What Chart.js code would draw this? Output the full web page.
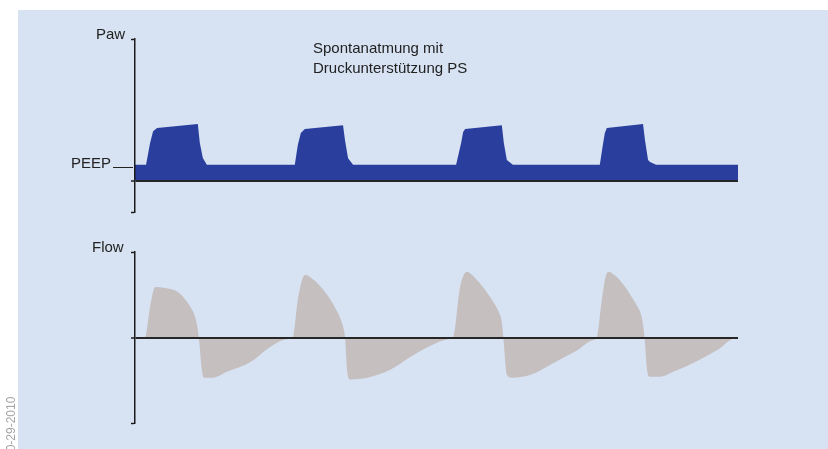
<!DOCTYPE html>
<html>
<head>
<meta charset="utf-8">
<script src="https://cdn.jsdelivr.net/npm/chart.js@4.4.1/dist/chart.umd.min.js"></script>
<style>
  html, body { margin: 0; padding: 0; background: #ffffff; }
  #wrap { position: relative; width: 828px; height: 449px; overflow: hidden; background: #ffffff;
          font-family: "Liberation Sans", Arial, Helvetica, sans-serif; color: #222; }
  #panel { position: absolute; left: 18px; top: 10px; width: 810px; height: 439px; background: #d7e3f3; }
  canvas { position: absolute; left: 0; }
  .lbl { position: absolute; font-size: 15px; line-height: 15px; white-space: nowrap; }
  #note { position: absolute; left: 313px; top: 38px; font-size: 15px; line-height: 20px; white-space: nowrap; }
  #peepLine { position: absolute; left: 113px; top: 167px; width: 20px; height: 0; border-top: 1px solid #222; }
  #date { position: absolute; left: 5px; top: 458px; font-size: 12px; line-height: 12px; color: #a3a3a3;
          transform-origin: 0 0; transform: rotate(-90deg); white-space: nowrap; }
</style>
</head>
<body>
<div id="wrap">
  <div id="panel"></div>
  <canvas id="paw" width="828" height="230" style="top:0px"></canvas>
  <canvas id="flow" width="828" height="219" style="top:230px"></canvas>
  <div class="lbl" style="left:96px; top:26px;">Paw</div>
  <div class="lbl" style="left:71px; top:155px;">PEEP</div>
  <div id="peepLine"></div>
  <div class="lbl" style="left:92px; top:239px;">Flow</div>
  <div id="note">Spontanatmung mit<br>Druckunterstützung PS</div>
  <div id="date">10-29-2010</div>
</div>
<script>
// ---- data (time in s, pressure in cmH2O-like units, flow in relative units) ----
const timeRange = [0, 12];
const pressureTicks = [-10, 0, 45];
const flowTicks = [-1, 0, 1];

const pressureTime = [
  0, 0.22, 0.30, 0.36, 0.44, 1.25, 1.29, 1.35, 1.43,
  3.18, 3.24, 3.30, 3.38, 4.14, 4.18, 4.24, 4.34,
  6.39, 6.49, 6.53, 6.57, 7.30, 7.34, 7.40, 7.52,
  9.25, 9.31, 9.35, 9.39, 10.11, 10.15, 10.21, 10.25, 10.37,
  12.0
];
const pressureValues = [
  5, 5, 11.9, 15.7, 16.7, 18.0, 11.9, 7.2, 5,
  5, 11.3, 15.1, 16.4, 17.6, 12.7, 7.1, 5,
  5, 11.9, 15.4, 16.4, 17.6, 11.9, 6.5, 5,
  5, 11.3, 15.1, 16.7, 18.0, 12.7, 6.5, 5.9, 5,
  5
];

const flowTime = [
  0, 0.20, 0.30, 0.40, 0.60, 0.80, 0.92, 1.03, 1.11, 1.18, 1.23, 1.27,
  1.33, 1.37, 1.55, 1.83, 2.29, 2.69, 3.02, 3.14,
  3.24, 3.34, 3.40, 3.52, 3.64, 3.76, 3.88, 3.98, 4.06, 4.12, 4.16, 4.18,
  4.22, 4.28, 4.62, 5.07, 5.47, 5.87, 6.23, 6.33,
  6.47, 6.61, 6.71, 6.81, 6.94, 7.06, 7.16, 7.24, 7.29, 7.315, 7.33,
  7.40, 7.50, 7.86, 8.32, 8.80, 9.11, 9.19,
  9.29, 9.37, 9.43, 9.54, 9.65, 9.78, 9.91, 10.01, 10.07, 10.105, 10.125, 10.14,
  10.19, 10.25, 10.45, 10.71, 11.10, 11.58, 11.98, 12.0
];
const flowValues = [
  0, 0, 0.36, 0.59, 0.58, 0.55, 0.50, 0.42, 0.35, 0.27, 0.16, 0,
  -0.38, -0.47, -0.47, -0.40, -0.29, -0.11, -0.02, 0,
  0.44, 0.70, 0.73, 0.69, 0.63, 0.55, 0.45, 0.35, 0.26, 0.17, 0.08, 0,
  -0.38, -0.49, -0.47, -0.38, -0.23, -0.10, -0.02, 0,
  0.59, 0.77, 0.73, 0.67, 0.58, 0.48, 0.39, 0.30, 0.21, 0.10, 0,
  -0.44, -0.47, -0.44, -0.30, -0.15, -0.03, 0,
  0.44, 0.72, 0.77, 0.73, 0.67, 0.57, 0.45, 0.35, 0.27, 0.17, 0.08, 0,
  -0.38, -0.46, -0.46, -0.40, -0.30, -0.15, 0, 0
];

const AXIS = '#1c1c1c';

function zip(xs, ys) { return xs.map((x, i) => ({ x: x, y: ys[i] })); }

function makeChart(id, points, fillColor, ticks, monotone, padding) {
  return new Chart(document.getElementById(id), {
    type: 'line',
    data: {
      datasets: [{
        data: points,
        fill: 'origin',
        backgroundColor: fillColor,
        borderColor: 'rgba(0,0,0,0)',
        borderWidth: 0,
        pointRadius: 0,
        tension: 0,
        cubicInterpolationMode: monotone ? 'monotone' : 'default'
      }]
    },
    options: {
      responsive: false,
      animation: false,
      events: [],
      layout: { padding: padding },
      plugins: { legend: { display: false }, tooltip: { enabled: false }, title: { display: false } },
      scales: {
        x: { type: 'linear', min: timeRange[0], max: timeRange[1], display: false },
        y: {
          type: 'linear',
          min: ticks[0], max: ticks[ticks.length - 1],
          afterBuildTicks: (s) => { s.ticks = ticks.map(v => ({ value: v })); },
          afterFit: (s) => { s.width = 4; },
          ticks: { display: false },
          border: { display: true, color: AXIS, width: 1.5, z: 1 },
          grid: {
            z: 1,
            drawOnChartArea: true,
            drawTicks: true,
            tickLength: 4,
            tickColor: AXIS,
            tickWidth: 1.5,
            color: (c) => (c.tick && c.tick.value === 0) ? '#262626' : 'rgba(0,0,0,0)',
            lineWidth: (c) => (c.tick && c.tick.value === 0) ? 2 : 1
          }
        }
      }
    }
  });
}

makeChart('paw', zip(pressureTime, pressureValues), '#2a3e9e', pressureTicks, false,
  { left: 131, right: 90, top: 39, bottom: 18 });
makeChart('flow', zip(flowTime, flowValues), '#c5bfc0', flowTicks, true,
  { left: 131, right: 90, top: 22, bottom: 26 });
</script>
</body>
</html>
